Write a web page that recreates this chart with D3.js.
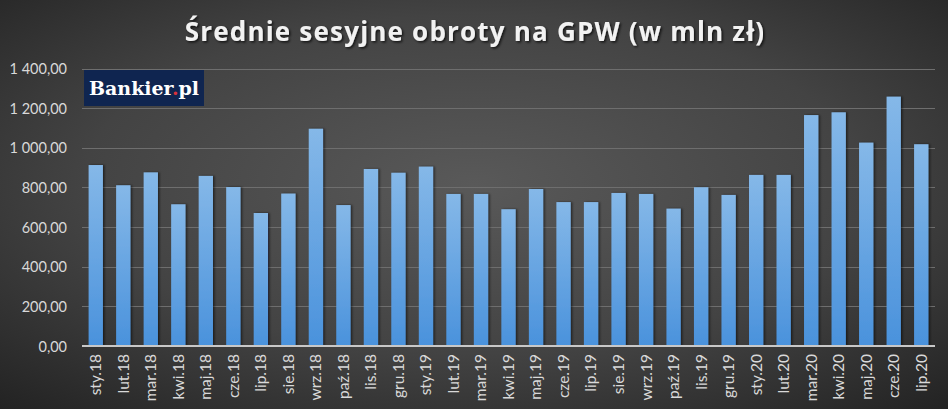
<!DOCTYPE html>
<html><head><meta charset="utf-8">
<script src="https://cdn.jsdelivr.net/npm/d3@7"></script>
<style>html,body{margin:0;padding:0;background:#2a2a2a;}svg{display:block;}</style>
</head><body>
<svg id="chart" width="948" height="409"></svg>
<script>
const categories = ["sty.18","lut.18","mar.18","kwi.18","maj.18","cze.18","lip.18","sie.18","wrz.18","paź.18","lis.18","gru.18",
  "sty.19","lut.19","mar.19","kwi.19","maj.19","cze.19","lip.19","sie.19","wrz.19","paź.19","lis.19","gru.19",
  "sty.20","lut.20","mar.20","kwi.20","maj.20","cze.20","lip.20"];
const values = [913,811,876,715,858,802,671,769,1096,711,893,874,
  905,767,767,690,792,726,726,772,767,693,801,762,
  863,863,1165,1179,1026,1258,1018];
const yTicks = [0,200,400,600,800,1000,1200,1400];
const title = "Średnie sesyjne obroty na GPW (w mln zł)";

const W = 948, H = 409;
const svg = d3.select("#chart");
const defs = svg.append("defs");

const bg = defs.append("radialGradient").attr("id","bg")
  .attr("cx","50%").attr("cy","45%").attr("r","75%");
bg.append("stop").attr("offset","0%").attr("stop-color","#595959");
bg.append("stop").attr("offset","55%").attr("stop-color","#434343");
bg.append("stop").attr("offset","100%").attr("stop-color","#222222");

const barG = defs.append("linearGradient").attr("id","barg")
  .attr("x1","0").attr("y1","0").attr("x2","0").attr("y2","1");
barG.append("stop").attr("offset","0%").attr("stop-color","#85b8e8");
barG.append("stop").attr("offset","100%").attr("stop-color","#4a92dc");

const sh = defs.append("filter").attr("id","sh").attr("x","-30%").attr("y","-10%").attr("width","160%").attr("height","120%");
sh.append("feDropShadow").attr("dx",1.5).attr("dy",0).attr("stdDeviation",1.2)
  .attr("flood-color","#000").attr("flood-opacity",0.55);

const tsh = defs.append("filter").attr("id","tsh").attr("x","-5%").attr("y","-30%").attr("width","110%").attr("height","160%");
tsh.append("feDropShadow").attr("dx",1.5).attr("dy",1.5).attr("stdDeviation",1)
  .attr("flood-color","#000").attr("flood-opacity",0.7);

svg.append("rect").attr("width",W).attr("height",H).attr("fill","url(#bg)");

const x = d3.scaleBand().domain(categories).range([82,935]).paddingInner(0.48).paddingOuter(0.24);
const y = d3.scaleLinear().domain([0,1400]).range([346,68.5]);

const loc = d3.formatLocale({decimal:",", thousands:"\u00a0", grouping:[3], currency:["","zł"]});
const fmt = loc.format(",.2f");

// gridlines
svg.append("g").selectAll("line").data(yTicks.filter(d=>d>0)).join("line")
  .attr("x1",82).attr("x2",935)
  .attr("y1",d=>Math.round(y(d))+0.5).attr("y2",d=>Math.round(y(d))+0.5)
  .attr("stroke","#6e6e6e").attr("stroke-width",1);

// y axis labels
const yAxis = d3.axisLeft(y).tickValues(yTicks).tickFormat(fmt).tickSize(0).tickPadding(0);
const ya = svg.append("g").attr("transform","translate(67,0)").call(yAxis);
ya.select(".domain").remove();
ya.selectAll("text").attr("fill","#d9d9d9").attr("font-family","Lato, 'Open Sans', sans-serif")
  .attr("font-size",14.5).attr("dy","0.35em");

// bars
svg.append("g").selectAll("rect").data(values).join("rect")
  .attr("x",(d,i)=>x(categories[i]))
  .attr("width",x.bandwidth())
  .attr("y",d=>y(d))
  .attr("height",d=>y(0)-y(d))
  .attr("fill","url(#barg)")
  .attr("filter","url(#sh)");

// x axis
const xAxis = d3.axisBottom(x).tickSize(0).tickPadding(0);
const xa = svg.append("g").attr("transform","translate(0,346)").call(xAxis);
xa.select(".domain").attr("stroke","#c8c8c8").attr("stroke-width",2).attr("d","M82,0H935");
xa.selectAll("text").attr("fill","#d9d9d9").attr("font-family","Lato, 'Open Sans', sans-serif")
  .attr("font-size",15.5)
  .attr("text-anchor","end")
  .attr("transform","rotate(-90)")
  .attr("x",-8).attr("y",0).attr("dy","0.35em");

// title
svg.append("text").attr("x",475).attr("y",41).attr("text-anchor","middle")
  .attr("font-family","'Open Sans', sans-serif").attr("font-weight","bold").attr("font-size",26)
  .attr("letter-spacing",1.2)
  .attr("fill","#f2f2f2").attr("filter","url(#tsh)").text(title);

// logo
const logo = svg.append("g");
logo.append("rect").attr("x",84).attr("y",70).attr("width",120).attr("height",36).attr("fill","#0f2550");
const lt = logo.append("text").attr("x",144).attr("y",95).attr("text-anchor","middle")
  .attr("font-family","'DejaVu Serif', 'Liberation Serif', serif").attr("font-weight","bold").attr("font-size",19)
  .attr("fill","#ffffff");
lt.append("tspan").text("Bankier");
lt.append("tspan").attr("fill","#d8323c").text(".");
lt.append("tspan").text("pl");
</script>
</body></html>
